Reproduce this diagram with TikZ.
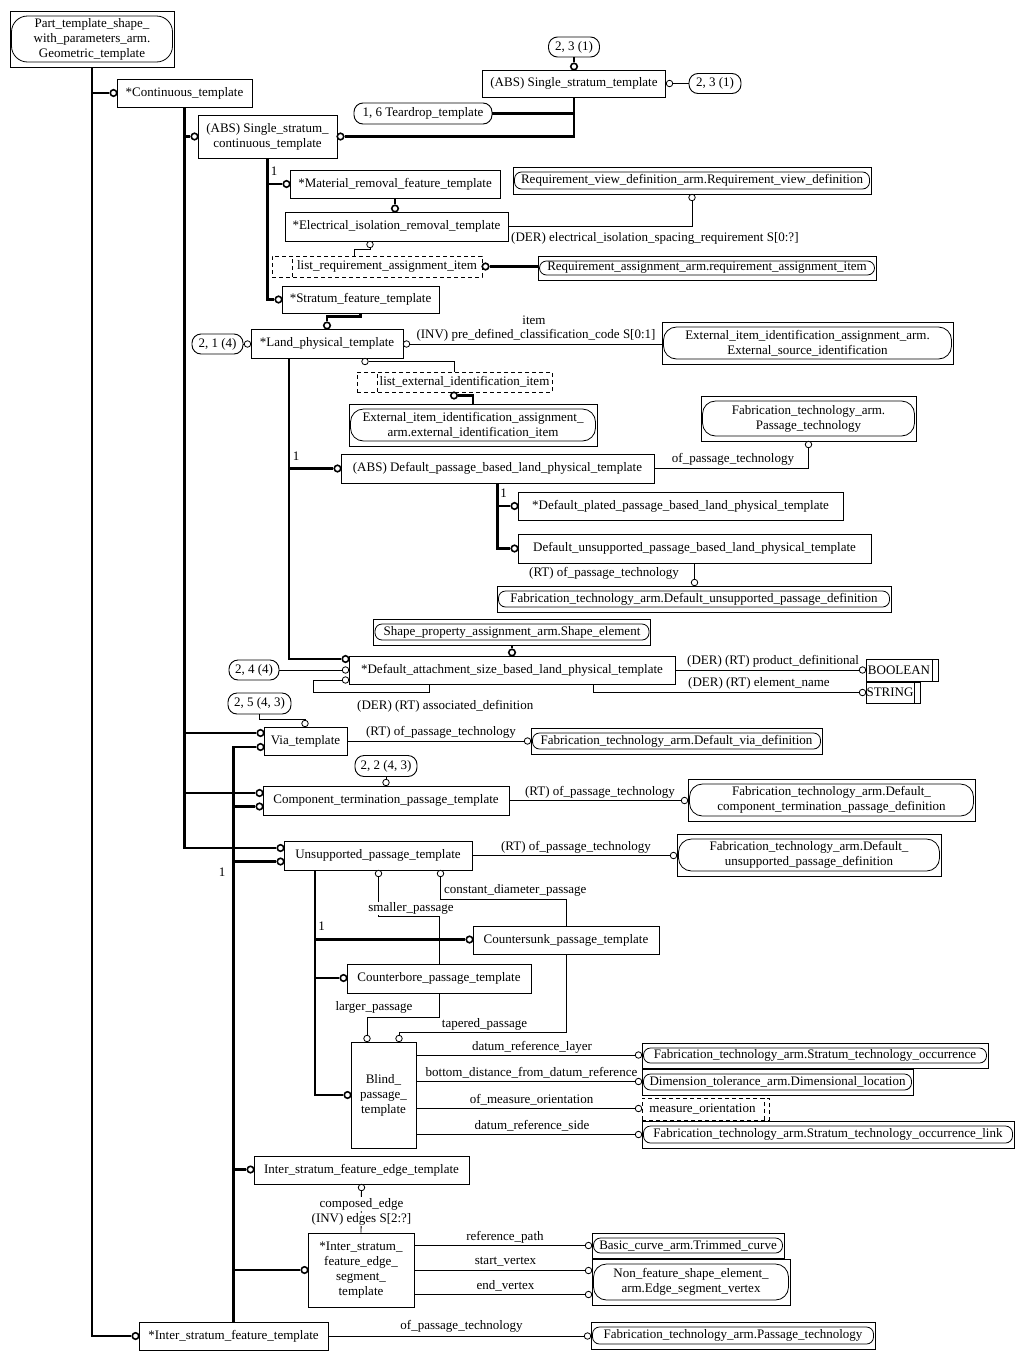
\documentclass[tikz,border=0pt]{standalone}
\usepackage{fontspec}
\setmainfont{Liberation Serif}
\usetikzlibrary{calc}
\newcommand{\dgfont}{\fontsize{13pt}{15pt}\selectfont}
\tikzset{
 box/.style={draw, line width=0.9pt, inner sep=0pt, align=center, font=\dgfont},
 ext/.style={box, path picture={\draw[line width=0.8pt, rounded corners=#1] ([xshift=1.5pt,yshift=5pt]path picture bounding box.south west) rectangle ([xshift=-1.5pt,yshift=-5pt]path picture bounding box.north east);}},
 ext/.default=7pt,
 pill/.style={draw, line width=0.9pt, rounded corners=9pt, inner sep=0pt, font=\dgfont},
 selL/.style={box, dash pattern=on 4pt off 3pt, path picture={\draw[line width=0.9pt, dash pattern=on 4pt off 3pt] ([xshift=#1]path picture bounding box.south west) -- ([xshift=#1]path picture bounding box.north west);}},
 selR/.style={box, dash pattern=on 4pt off 3pt, path picture={\draw[line width=0.9pt, dash pattern=on 4pt off 3pt] ([xshift=-#1]path picture bounding box.south east) -- ([xshift=-#1]path picture bounding box.north east);}},
 simp/.style={box, path picture={\draw[line width=0.9pt] ([xshift=-6pt]path picture bounding box.south east) -- ([xshift=-6pt]path picture bounding box.north east);}},
 tc/.style={circle, draw, line width=1.6pt, fill=white, minimum size=6.5pt, inner sep=0pt},
 nc/.style={circle, draw, line width=0.8pt, fill=white, minimum size=6.5pt, inner sep=0pt},
 thk/.style={line width=2.4pt},
 thn/.style={line width=0.9pt},
 lbl/.style={font=\dgfont, inner sep=1pt},
}
\begin{document}
\begin{tikzpicture}[x=1pt,y=-1pt]
\useasboundingbox (0,0) rectangle (1023,1360);

% ---------- entity boxes ----------
\node[ext=16pt, minimum width=164pt, minimum height=56pt] (part) at (92,39) {Part\_template\_shape\_\\with\_parameters\_arm.\\Geometric\_template};
\node[box, minimum width=135pt, minimum height=28pt] (cont) at (184.5,93) {*Continuous\_template};
\node[pill, minimum width=138pt, minimum height=21pt] (tear) at (423,113.5) {1, 6 Teardrop\_template};
\node[box, minimum width=183pt, minimum height=27pt] (sst) at (574,83.5) {(ABS) Single\_stratum\_template};
\node[pill, minimum width=51pt, minimum height=20pt] (p231t) at (574,47) {2, 3 (1)};
\node[pill, minimum width=52pt, minimum height=20pt] (p231r) at (715,83.5) {2, 3 (1)};
\node[box, minimum width=139pt, minimum height=43pt] (ssct) at (267.5,136.5) {(ABS) Single\_stratum\_\\continuous\_template};
\node[box, minimum width=210pt, minimum height=28pt] (mrft) at (395,184) {*Material\_removal\_feature\_template};
\node[box, minimum width=223pt, minimum height=29pt] (eirt) at (396.5,226.5) {*Electrical\_isolation\_removal\_template};
\node[ext, minimum width=358pt, minimum height=27pt] (rvd) at (692,180.5) {Requirement\_view\_definition\_arm.Requirement\_view\_definition};
\node[selL=20pt, minimum width=210pt, minimum height=21pt] (lrai) at (377,266.5) {\hspace*{20pt}list\_requirement\_assignment\_item};
\node[ext, minimum width=338pt, minimum height=24pt] (rai) at (707,268) {Requirement\_assignment\_arm.requirement\_assignment\_item};
\node[box, minimum width=157pt, minimum height=27pt] (sft) at (360.5,299.5) {*Stratum\_feature\_template};
\node[box, minimum width=152pt, minimum height=29pt] (lpt) at (327,343.5) {*Land\_physical\_template};
\node[pill, minimum width=51pt, minimum height=20pt] (p214) at (217.5,344) {2, 1 (4)};
\node[ext=13pt, minimum width=291pt, minimum height=42pt] (esi) at (807.5,343) {External\_item\_identification\_assignment\_arm.\\External\_source\_identification};
\node[selL=20pt, minimum width=195pt, minimum height=20pt] (leii) at (454.5,382) {\hspace*{20pt}list\_external\_identification\_item};
\node[ext=13pt, minimum width=248pt, minimum height=42pt] (eii) at (473,425) {External\_item\_identification\_assignment\_\\arm.external\_identification\_item};
\node[ext=13pt, minimum width=215pt, minimum height=45pt] (pt1) at (808.5,418.5) {Fabrication\_technology\_arm.\\Passage\_technology};
\node[box, minimum width=313pt, minimum height=29pt] (dpb) at (497.5,468.5) {(ABS) Default\_passage\_based\_land\_physical\_template};
\node[box, minimum width=325pt, minimum height=28pt] (dpp) at (680.5,506) {*Default\_plated\_passage\_based\_land\_physical\_template};
\node[box, minimum width=353pt, minimum height=29pt] (dup) at (694.5,548.5) {Default\_unsupported\_passage\_based\_land\_physical\_template};
\node[ext, minimum width=394pt, minimum height=26pt] (fdupd) at (694,599) {Fabrication\_technology\_arm.Default\_unsupported\_passage\_definition};
\node[ext, minimum width=277pt, minimum height=26pt] (spse) at (512,632) {Shape\_property\_assignment\_arm.Shape\_element};
\node[box, minimum width=326pt, minimum height=28pt] (dasb) at (512,670) {*Default\_attachment\_size\_based\_land\_physical\_template};
\node[pill, minimum width=50pt, minimum height=20pt] (p244) at (254,670) {2, 4 (4)};
\node[simp, minimum width=72pt, minimum height=22pt] (bool) at (902,670) {BOOLEAN\hspace*{6pt}};
\node[simp, minimum width=54pt, minimum height=21pt] (str) at (893,692.5) {STRING\hspace*{6pt}};
\node[pill, minimum width=63pt, minimum height=21pt] (p2543) at (259.5,703.5) {2, 5 (4, 3)};
\node[box, minimum width=83pt, minimum height=28pt] (via) at (305.5,741) {Via\_template};
\node[ext, minimum width=291pt, minimum height=26pt] (fdvd) at (676.5,741) {Fabrication\_technology\_arm.Default\_via\_definition};
\node[pill, minimum width=62pt, minimum height=21pt] (p2243) at (386,766) {2, 2 (4, 3)};
\node[box, minimum width=246pt, minimum height=29pt] (ctpt) at (386,800.5) {Component\_termination\_passage\_template};
\node[ext=13pt, minimum width=287pt, minimum height=42pt] (fdct) at (831.5,800) {Fabrication\_technology\_arm.Default\_\\component\_termination\_passage\_definition};
\node[box, minimum width=188pt, minimum height=29pt] (upt) at (378,855.5) {Unsupported\_passage\_template};
\node[ext=13pt, minimum width=264pt, minimum height=42pt] (fdup2) at (809,855) {Fabrication\_technology\_arm.Default\_\\unsupported\_passage\_definition};
\node[box, minimum width=186pt, minimum height=28pt] (cspt) at (566,940) {Countersunk\_passage\_template};
\node[box, minimum width=184pt, minimum height=29pt] (cbpt) at (439,978.5) {Counterbore\_passage\_template};
\node[box, minimum width=65pt, minimum height=106pt] (bpt) at (383.5,1095) {Blind\_\\passage\_\\template};
\node[ext, minimum width=346pt, minimum height=25pt] (ftsto) at (815,1055.5) {Fabrication\_technology\_arm.Stratum\_technology\_occurrence};
\node[ext, minimum width=271pt, minimum height=26pt] (dtdl) at (777.5,1082) {Dimension\_tolerance\_arm.Dimensional\_location};
\node[selR=5pt, minimum width=127pt, minimum height=22pt] (mo) at (705.5,1109) {measure\_orientation\hspace*{6pt}};
\node[ext, minimum width=372pt, minimum height=27pt] (ftstol) at (828,1134.5) {Fabrication\_technology\_arm.Stratum\_technology\_occurrence\_link};
\node[box, minimum width=215pt, minimum height=28pt] (isfet) at (361.5,1170) {Inter\_stratum\_feature\_edge\_template};
\node[box, minimum width=106pt, minimum height=74pt] (isfest) at (361,1270) {*Inter\_stratum\_\\feature\_edge\_\\segment\_\\template};
\node[ext, minimum width=192pt, minimum height=25pt] (bctc) at (688,1245.5) {Basic\_curve\_arm.Trimmed\_curve};
\node[ext=13pt, minimum width=198pt, minimum height=46pt] (nfse) at (691,1282) {Non\_feature\_shape\_element\_\\arm.Edge\_segment\_vertex};
\node[box, minimum width=189pt, minimum height=28pt] (isft) at (233.5,1336) {*Inter\_stratum\_feature\_template};
\node[ext, minimum width=284pt, minimum height=27pt] (ftpt2) at (733,1335.5) {Fabrication\_technology\_arm.Passage\_technology};

% ---------- circles ----------
\node[tc] (c_cont) at (113.5,93) {};
\node[tc] (c_ssct) at (194.5,136.5) {};
\node[tc] (c_sstr) at (340.5,136.5) {};
\node[tc] (c_ssttop) at (574,66.5) {};
\node[tc] (c_mrft) at (286.5,184) {};
\node[tc] (c_eirt) at (395,208.5) {};
\node[tc] (c_lrai) at (485.5,266.5) {};
\node[tc] (c_sft) at (278.5,299.5) {};
\node[tc] (c_lpttop) at (327,325.5) {};
\node[tc] (c_leiib) at (454,395.5) {};
\node[tc] (c_dpb) at (337.5,468.5) {};
\node[tc] (c_dpp) at (514.5,506) {};
\node[tc] (c_dup) at (514.5,548.5) {};
\node[tc] (c_dasbtop) at (512,652.5) {};
\node[tc] (c_dasb1) at (345.5,659) {};
\node[tc] (c_via1) at (260.5,733) {};
\node[tc] (c_via2) at (260.5,747) {};
\node[tc] (c_ctpt1) at (259.5,793) {};
\node[tc] (c_ctpt2) at (259.5,806.5) {};
\node[tc] (c_upt1) at (280.5,848) {};
\node[tc] (c_upt2) at (280.5,861.5) {};
\node[tc] (c_cspt) at (469.5,939.5) {};
\node[tc] (c_cbpt) at (343.5,978) {};
\node[tc] (c_bpt) at (347.5,1095) {};
\node[tc] (c_isfet) at (250.5,1169.5) {};
\node[tc] (c_isfest) at (304.5,1270) {};
\node[tc] (c_isft) at (135.5,1336) {};

\node[nc] (c_sstr2) at (669.5,83.5) {};
\node[nc] (c_rvd) at (692,197.5) {};
\node[nc] (c_eirtb) at (370,244.5) {};
\node[nc] (c_lptl) at (247.5,344) {};
\node[nc] (c_lptr) at (406.5,344) {};
\node[nc] (c_lptb) at (365,361.5) {};
\node[nc] (c_pt1) at (808.5,444.5) {};
\node[nc] (c_fdupd) at (694.5,582.5) {};
\node[nc] (c_dasb2) at (345.5,670) {};
\node[nc] (c_dasb3) at (345.5,680) {};
\node[nc] (c_bool) at (862.5,670) {};
\node[nc] (c_str) at (862.5,692.5) {};
\node[nc] (c_viatop) at (305,723.5) {};
\node[nc] (c_fdvd) at (527.5,741) {};
\node[nc] (c_ctpttop) at (386,782.5) {};
\node[nc] (c_fdct) at (684.5,800.5) {};
\node[nc] (c_fdup2) at (673.5,855.5) {};
\node[nc] (c_uptb1) at (378.5,873.5) {};
\node[nc] (c_uptb2) at (440.5,873.5) {};
\node[nc] (c_bpt1) at (367,1038.5) {};
\node[nc] (c_bpt2) at (399,1038.5) {};
\node[nc] (c_ftsto) at (638.5,1055) {};
\node[nc] (c_dtdl) at (638.5,1081.5) {};
\node[nc] (c_mo) at (638.5,1108.5) {};
\node[nc] (c_ftstol) at (638.5,1134.5) {};
\node[nc] (c_isfetb) at (361.5,1187.5) {};
\node[nc] (c_bctc) at (588.5,1245.5) {};
\node[nc] (c_nfse1) at (588.5,1270.5) {};
\node[nc] (c_nfse2) at (588.5,1294.5) {};
\node[nc] (c_ftpt2) at (587.5,1336) {};

% ---------- thick connectors ----------
\draw[thk] (part.south) |- (c_isft);
\draw[thk] (part.south |- c_cont) -- (c_cont);
\draw[thk] (cont.south) |- (c_upt1);
\draw[thk] (cont.south |- c_ssct) -- (c_ssct);
\draw[thk] (cont.south |- c_via1) -- (c_via1);
\draw[thk] (cont.south |- c_ctpt1) -- (c_ctpt1);
\draw[thk] (ssct.south) |- (c_sft);
\draw[thk] (ssct.south |- c_mrft) -- (c_mrft);
\draw[thk] (c_sstr) -| (sst.south);
\draw[thk] (tear.east) -- (tear.east -| sst.south);
\draw[thk] (p231t.south) -- (c_ssttop);
\draw[thk] (mrft.south) -- (c_eirt);
\draw[thk] (c_lrai) -- (c_lrai -| rai.west);
\draw[thk] (sft.south) -- ++(0,3) -| (c_lpttop);
\coordinate (lptb) at (289,358);
\draw[thk] (lptb) |- (c_dasb1);
\draw[thk] (lptb |- c_dpb) -- (c_dpb);
\draw[thk] (c_leiib) -| (eii.north);
\draw[thk] (dpb.south) |- (c_dup);
\draw[thk] (dpb.south |- c_dpp) -- (c_dpp);
\draw[thk] (spse.south) -- (c_dasbtop);
\draw[thk] (c_via2) -| (isft.north);
\draw[thk] (isft.north |- c_ctpt2) -- (c_ctpt2);
\draw[thk] (isft.north |- c_upt2) -- (c_upt2);
\draw[thk] (isft.north |- c_isfet) -- (c_isfet);
\draw[thk] (isft.north |- c_isfest) -- (c_isfest);
\coordinate (uptb) at (315,870);
\draw[thk] (uptb) |- (c_bpt);
\draw[thk] (uptb |- c_cspt) -- (c_cspt);
\draw[thk] (uptb |- c_cbpt) -- (c_cbpt);

% ---------- thin connectors ----------
\draw[thn] (c_sstr2) -- (p231r);
\draw[thn] (eirt.east) -| (c_rvd);
\draw[thn] (c_eirtb.south) -- ++(0,1) -| ($(lrai.north west)+(83,0)$);
\draw[thn] (p214) -- (c_lptl);
\draw[thn] (c_lptr) -- (c_lptr -| esi.west);
\draw[thn] (c_lptb.east) -| (leii.north);
\draw[thn] (dpb.east) -| (c_pt1);
\draw[thn] (dup.south) -- (c_fdupd);
\draw[thn] (p244) -- (c_dasb2);
\draw[thn] (c_dasb3.west) -- ++(-28,0) |- ++(116,12) -- ++(0,-8);
\draw[thn] (dasb.east) -- (c_bool);
\draw[thn] ($(dasb.south west)+(244.5,0)$) |- (c_str);
\draw[thn] (p2543.south) -- ++(0,5) -| (c_viatop);
\draw[thn] (via.east) -- (c_fdvd);
\draw[thn] (p2243.south) -- (c_ctpttop);
\draw[thn] (ctpt.east) -- (c_fdct);
\draw[thn] (upt.east) -- (c_fdup2);
\draw[thn] (c_uptb1) |- ($(cbpt.north)+(0,-47.5)$) -- (cbpt.north);
\draw[thn] (c_uptb2) |- ($(cspt.north)+(0,-26.5)$) -- (cspt.north);
\draw[thn] (cbpt.south) |- ($(c_bpt1)+(0,-21.5)$) -- (c_bpt1);
\draw[thn] (cspt.south) |- ($(c_bpt2)+(0,-6.5)$) -- (c_bpt2);
\draw[thn] (bpt.east |- c_ftsto) -- (c_ftsto);
\draw[thn] (bpt.east |- c_dtdl) -- (c_dtdl);
\draw[thn] (bpt.east |- c_mo) -- (c_mo);
\draw[thn] (bpt.east |- c_ftstol) -- (c_ftstol);
\draw[thn] (c_isfetb) -- (isfest.north);
\draw[thn] (isfest.east |- c_bctc) -- (c_bctc);
\draw[thn] (isfest.east |- c_nfse1) -- (c_nfse1);
\draw[thn] (isfest.east |- c_nfse2) -- (c_nfse2);
\draw[thn] (isft.east) -- (c_ftpt2);

% ---------- labels ----------
\node[lbl] (l1) at (274,171) {1};
\node[lbl, anchor=west] (lder) at (510,238) {(DER) electrical\_isolation\_spacing\_requirement S[0:?]};
\node[lbl] (litem) at (534,320) {item};
\node[lbl] (linv) at (536,335.5) {(INV) pre\_defined\_classification\_code S[0:1]};
\node[lbl] (l2) at (296,456) {1};
\node[lbl] (lopt1) at (733,459) {of\_passage\_technology};
\node[lbl] (l3) at (503.5,493) {1};
\node[lbl, anchor=west] (lrt1) at (528,573) {(RT) of\_passage\_technology};
\node[lbl, anchor=west] (lad) at (356,706) {(DER) (RT) associated\_definition};
\node[lbl, anchor=west] (lpd) at (686,661) {(DER) (RT) product\_definitional};
\node[lbl, anchor=west] (len) at (687,683) {(DER) (RT) element\_name};
\node[lbl] (lrt2) at (441,732) {(RT) of\_passage\_technology};
\node[lbl] (lrt3) at (600,792) {(RT) of\_passage\_technology};
\node[lbl] (lrt4) at (576,847) {(RT) of\_passage\_technology};
\node[lbl] (l4) at (222,872) {1};
\node[lbl, anchor=west] (lcdp) at (443,890) {constant\_diameter\_passage};
\node[lbl, fill=white] (lsp) at (411,908.5) {smaller\_passage};
\node[lbl] (l5) at (321.5,926.5) {1};
\node[lbl] (llp) at (374,1007.5) {larger\_passage};
\node[lbl] (ltp) at (484.5,1024) {tapered\_passage};
\node[lbl] (ldrl) at (532,1047) {datum\_reference\_layer};
\node[lbl] (lbd) at (531.5,1072.5) {bottom\_distance\_from\_datum\_reference};
\node[lbl] (lmo) at (531.5,1100) {of\_measure\_orientation};
\node[lbl] (ldrs) at (532,1126) {datum\_reference\_side};
\node[lbl, fill=white] (lce) at (361.5,1204) {composed\_edge};
\node[lbl, fill=white] (lie) at (361.5,1219.5) {(INV) edges S[2:?]};
\node[lbl] (lrp) at (505,1237) {reference\_path};
\node[lbl] (lsv) at (505.5,1262) {start\_vertex};
\node[lbl] (lev) at (505.5,1286) {end\_vertex};
\node[lbl] (lopt2) at (461.5,1326.5) {of\_passage\_technology};
\end{tikzpicture}
\end{document}
